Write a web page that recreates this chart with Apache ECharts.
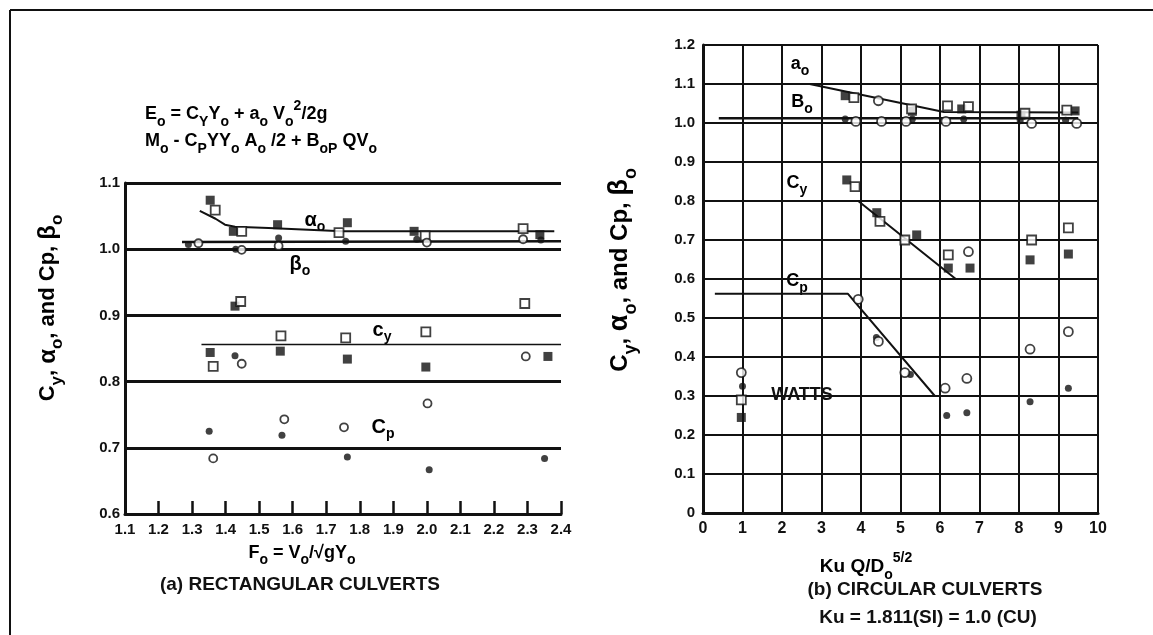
<!DOCTYPE html>
<html><head><meta charset="utf-8">
<script src="https://cdn.jsdelivr.net/npm/echarts@6/dist/echarts.min.js"></script>
<style>html,body{margin:0;padding:0;background:#fff}#c{width:1153px;height:635px}</style>
</head><body><div id="c"></div>
<script>
// ---------- DATA: (a) Rectangular culverts ----------
const aXTicks = [1.1,1.2,1.3,1.4,1.5,1.6,1.7,1.8,1.9,2.0,2.1,2.2,2.3,2.4];
const aYTicks = [0.6,0.7,0.8,0.9,1.0,1.1];
// filled squares
const aFillSqX = [1.354,1.423,1.555,1.763,1.962,2.337, 1.354,1.428,1.563,1.763,1.997,2.361];
const aFillSqY = [1.074,1.027,1.037,1.040,1.027,1.022, 0.844,0.914,0.846,0.834,0.822,0.838];
// open squares
const aOpenSqX = [1.369,1.448,1.738,1.995,2.287, 1.363,1.445,1.565,1.758,1.997,2.292];
const aOpenSqY = [1.059,1.027,1.025,1.020,1.031, 0.823,0.921,0.869,0.866,0.875,0.918];
// filled circles
const aFillCiX = [1.289,1.430,1.558,1.758,1.970,2.340, 1.428, 1.351,1.568,1.763,2.007,2.351];
const aFillCiY = [1.007,1.000,1.017,1.012,1.015,1.014, 0.839, 0.725,0.719,0.686,0.667,0.684];
// open circles
const aOpenCiX = [1.319,1.448,1.558,2.000,2.287, 1.448,2.295, 1.363,1.575,1.753,2.002];
const aOpenCiY = [1.009,0.999,1.005,1.010,1.015, 0.827,0.838, 0.684,0.743,0.731,0.767];
// fitted lines
const aAlphaLineX = [1.323,1.37,1.398,1.428,1.528,1.748,2.38];
const aAlphaLineY = [1.058,1.046,1.037,1.034,1.032,1.027,1.027];
const aBetaLineX = [1.27,2.4];
const aBetaLineY = [1.011,1.012];
const aCyLineX = [1.328,2.4];
const aCyLineY = [0.856,0.856];

// ---------- DATA: (b) Circular culverts ----------
const bXTicks = [0,1,2,3,4,5,6,7,8,9,10];
const bYTicks = [0,0.1,0.2,0.3,0.4,0.5,0.6,0.7,0.8,0.9,1.0,1.1,1.2];
const bFillSqX = [3.60,5.30,6.55,8.05,9.42, 3.64,4.40,5.41,6.21,6.76,8.28,9.25, 0.97];
const bFillSqY = [1.070,1.030,1.036,1.020,1.031, 0.854,0.770,0.713,0.628,0.628,0.649,0.664, 0.245];
const bOpenSqX = [3.82,5.28,6.19,6.72,8.15,9.21, 3.85,4.48,5.11,6.21,8.32,9.25, 0.97];
const bOpenSqY = [1.065,1.036,1.044,1.042,1.025,1.033, 0.837,0.748,0.700,0.662,0.700,0.731, 0.290];
const bFillCiX = [3.60,5.30,6.60,8.03,9.18, 4.39,5.25,6.17,6.68,8.28,9.25, 1.00];
const bFillCiY = [1.010,1.010,1.010,1.006,1.007, 0.450,0.355,0.250,0.257,0.285,0.320, 0.325];
const bOpenCiX = [3.87,4.52,5.14,6.15,8.32,9.46, 4.44, 6.72, 3.93,4.44,5.11,6.13,6.68,8.28,9.25, 0.97];
const bOpenCiY = [1.004,1.004,1.004,1.004,0.999,0.999, 1.057, 0.670, 0.548,0.440,0.360,0.320,0.345,0.420,0.465, 0.360];
const bAlphaLineX = [0.5,2.7,6.1,9.5];
const bAlphaLineY = [1.1,1.1,1.028,1.027];
const bBetaLineX = [0.4,9.5];
const bBetaLineY = [1.012,1.012];
const bCyLineX = [0.43,3.93,6.4,9.9];
const bCyLineY = [0.8,0.8,0.6,0.6];
const bCpLineX = [0.3,3.67,5.87];
const bCpLineY = [0.562,0.562,0.3];

// ---------- build ----------
const FF = '"Liberation Sans", Arial, sans-serif';
const INK = '#111';
const zip = (xs, ys) => xs.map((x, i) => [x, ys[i]]);

function scatter(gi, xs, ys, sym, filled, size) {
  return { type:'scatter', xAxisIndex:gi, yAxisIndex:gi, data:zip(xs,ys), symbol:sym, symbolSize:size,
    itemStyle:{ color: filled ? INK : '#fff', borderColor: INK, borderWidth: filled ? 0 : 1.8 }, z:5, silent:true };
}
function line(gi, xs, ys, w) {
  return { type:'line', xAxisIndex:gi, yAxisIndex:gi, data:zip(xs,ys), symbol:'none',
    lineStyle:{ color: INK, width: w }, z:3, silent:true };
}

function R(k) {
  const lh = Math.round(28*k);
  return {
    n:{ fontSize:Math.round(17*k), fontWeight:'bold', fontFamily:FF, color:INK, lineHeight:lh, verticalAlign:'middle' },
    s:{ fontSize:Math.round(13*k), fontWeight:'bold', fontFamily:FF, color:INK, lineHeight:lh, verticalAlign:'bottom' },
    u:{ fontSize:Math.round(13*k), fontWeight:'bold', fontFamily:FF, color:INK, lineHeight:lh, verticalAlign:'top' },
    g:{ fontSize:Math.round(19*k), fontWeight:'bold', fontFamily:FF, color:INK, lineHeight:lh, verticalAlign:'middle' }
  };
}
function rt(x, y, text, k, extra, align) {
  return Object.assign({ type:'text', x:x, y:y, silent:true,
    style:{ text:text, rich:R(k), align:align||'center', verticalAlign:'middle' } }, extra||{});
}
function pt(x, y, text, size, align) {
  return { type:'text', x:x, y:y, silent:true,
    style:{ text:text, font:'bold '+size+'px '+FF, fill:INK, align:align||'center', verticalAlign:'middle' } };
}
const yTitle = '{n|C}{s|y}{n|, }{g|α}{s|o}{n|, and Cp, }{g|β}{s|o}';

const option = {
  animation:false,
  backgroundColor:'#fff',
  grid:[
    { left:125, top:183, width:436, height:331 },
    { left:703, top:45, width:395, height:468 }
  ],
  xAxis:[
    { gridIndex:0, type:'value', min:aXTicks[0], max:aXTicks[aXTicks.length-1], interval:0.1,
      axisLine:{ lineStyle:{ color:INK, width:3 } },
      axisTick:{ inside:true, length:13, lineStyle:{ color:INK, width:2.5 } },
      axisLabel:{ color:INK, fontFamily:FF, fontWeight:'bold', fontSize:15, margin:8,
        formatter: v => v.toFixed(1) },
      splitLine:{ show:false } },
    { gridIndex:1, type:'value', min:bXTicks[0], max:bXTicks[bXTicks.length-1], interval:1,
      axisLine:{ lineStyle:{ color:INK, width:3 } },
      axisTick:{ show:false },
      axisLabel:{ color:INK, fontFamily:FF, fontWeight:'bold', fontSize:16, margin:8 },
      splitLine:{ show:true, lineStyle:{ color:INK, width:2 } } }
  ],
  yAxis:[
    { gridIndex:0, type:'value', min:aYTicks[0], max:aYTicks[aYTicks.length-1], interval:0.1,
      axisLine:{ show:true, lineStyle:{ color:INK, width:3 } },
      axisTick:{ show:false },
      axisLabel:{ color:INK, fontFamily:FF, fontWeight:'bold', fontSize:15, margin:5,
        formatter: v => v.toFixed(1) },
      splitLine:{ show:true, lineStyle:{ color:INK, width:3 } } },
    { gridIndex:1, type:'value', min:bYTicks[0], max:bYTicks[bYTicks.length-1], interval:0.1,
      axisLine:{ show:true, lineStyle:{ color:INK, width:3 } },
      axisTick:{ show:false },
      axisLabel:{ color:INK, fontFamily:FF, fontWeight:'bold', fontSize:15, margin:8,
        formatter: v => v === 0 ? '0' : v.toFixed(1) },
      splitLine:{ show:true, lineStyle:{ color:INK, width:2 } } }
  ],
  series:[
    line(0, aAlphaLineX, aAlphaLineY, 2),
    line(0, aBetaLineX, aBetaLineY, 2.5),
    line(0, aCyLineX, aCyLineY, 1.5),
    scatter(0, aFillSqX, aFillSqY, 'rect', true, 9),
    scatter(0, aOpenSqX, aOpenSqY, 'rect', false, 9),
    scatter(0, aFillCiX, aFillCiY, 'circle', true, 7),
    scatter(0, aOpenCiX, aOpenCiY, 'circle', false, 8),
    line(1, bAlphaLineX, bAlphaLineY, 2),
    line(1, bBetaLineX, bBetaLineY, 2.5),
    line(1, bCyLineX, bCyLineY, 2),
    line(1, bCpLineX, bCpLineY, 2),
    scatter(1, bFillSqX, bFillSqY, 'rect', true, 9),
    scatter(1, bOpenSqX, bOpenSqY, 'rect', false, 9),
    scatter(1, bFillCiX, bFillCiY, 'circle', true, 7),
    scatter(1, bOpenCiX, bOpenCiY, 'circle', false, 9)
  ],
  graphic:[
    { type:'line', shape:{ x1:10, y1:10, x2:1153, y2:10 }, style:{ stroke:INK, lineWidth:2 }, silent:true },
    { type:'line', shape:{ x1:10, y1:10, x2:10, y2:635 }, style:{ stroke:INK, lineWidth:2 }, silent:true },
    // equations
    rt(145, 114, '{n|E}{s|o}{n| = C}{s|Y}{n|Y}{s|o}{n| + a}{s|o}{n| V}{s|o}{u|2}{n|/2g}', 1.08, null, 'left'),
    rt(145, 141, '{n|M}{s|o}{n| - C}{s|P}{n|YY}{s|o}{n| A}{s|o}{n| /2 + B}{s|oP}{n| QV}{s|o}', 1.08, null, 'left'),
    // left y title
    rt(48, 308, yTitle, 1.28, { rotation:Math.PI/2 }),
    // left annotations
    rt(315, 220, '{g|α}{s|o}', 1.05),
    rt(300, 264, '{g|β}{s|o}', 1.05),
    rt(382, 330, '{g|c}{s|y}', 1.05),
    rt(383, 427, '{g|C}{s|p}', 1.05),
    // left x title + caption
    rt(302, 553, '{n|F}{s|o}{n| = V}{s|o}{n|/√gY}{s|o}', 1.05),
    pt(300, 585, '(a) RECTANGULAR CULVERTS', 19),
    // right y title
    rt(620, 270, yTitle, 1.42, { rotation:Math.PI/2 }),
    // right annotations
    rt(800, 64, '{n|a}{s|o}', 1.05),
    rt(802, 102, '{n|B}{s|o}', 1.05),
    rt(797, 183, '{n|C}{s|y}', 1.05),
    rt(797, 281, '{n|C}{s|p}', 1.05),
    pt(802, 395, 'WATTS', 18),
    // right x title + caption
    rt(866, 567, '{n|Ku Q/D}{s|o}{u|5/2}', 1.1),
    pt(925, 590, '(b) CIRCULAR CULVERTS', 19),
    pt(928, 618, 'Ku = 1.811(SI) = 1.0 (CU)', 19)
  ]
};
const chart = echarts.init(document.getElementById('c'), null, { renderer:'canvas' });
chart.setOption(option);
</script></body></html>
